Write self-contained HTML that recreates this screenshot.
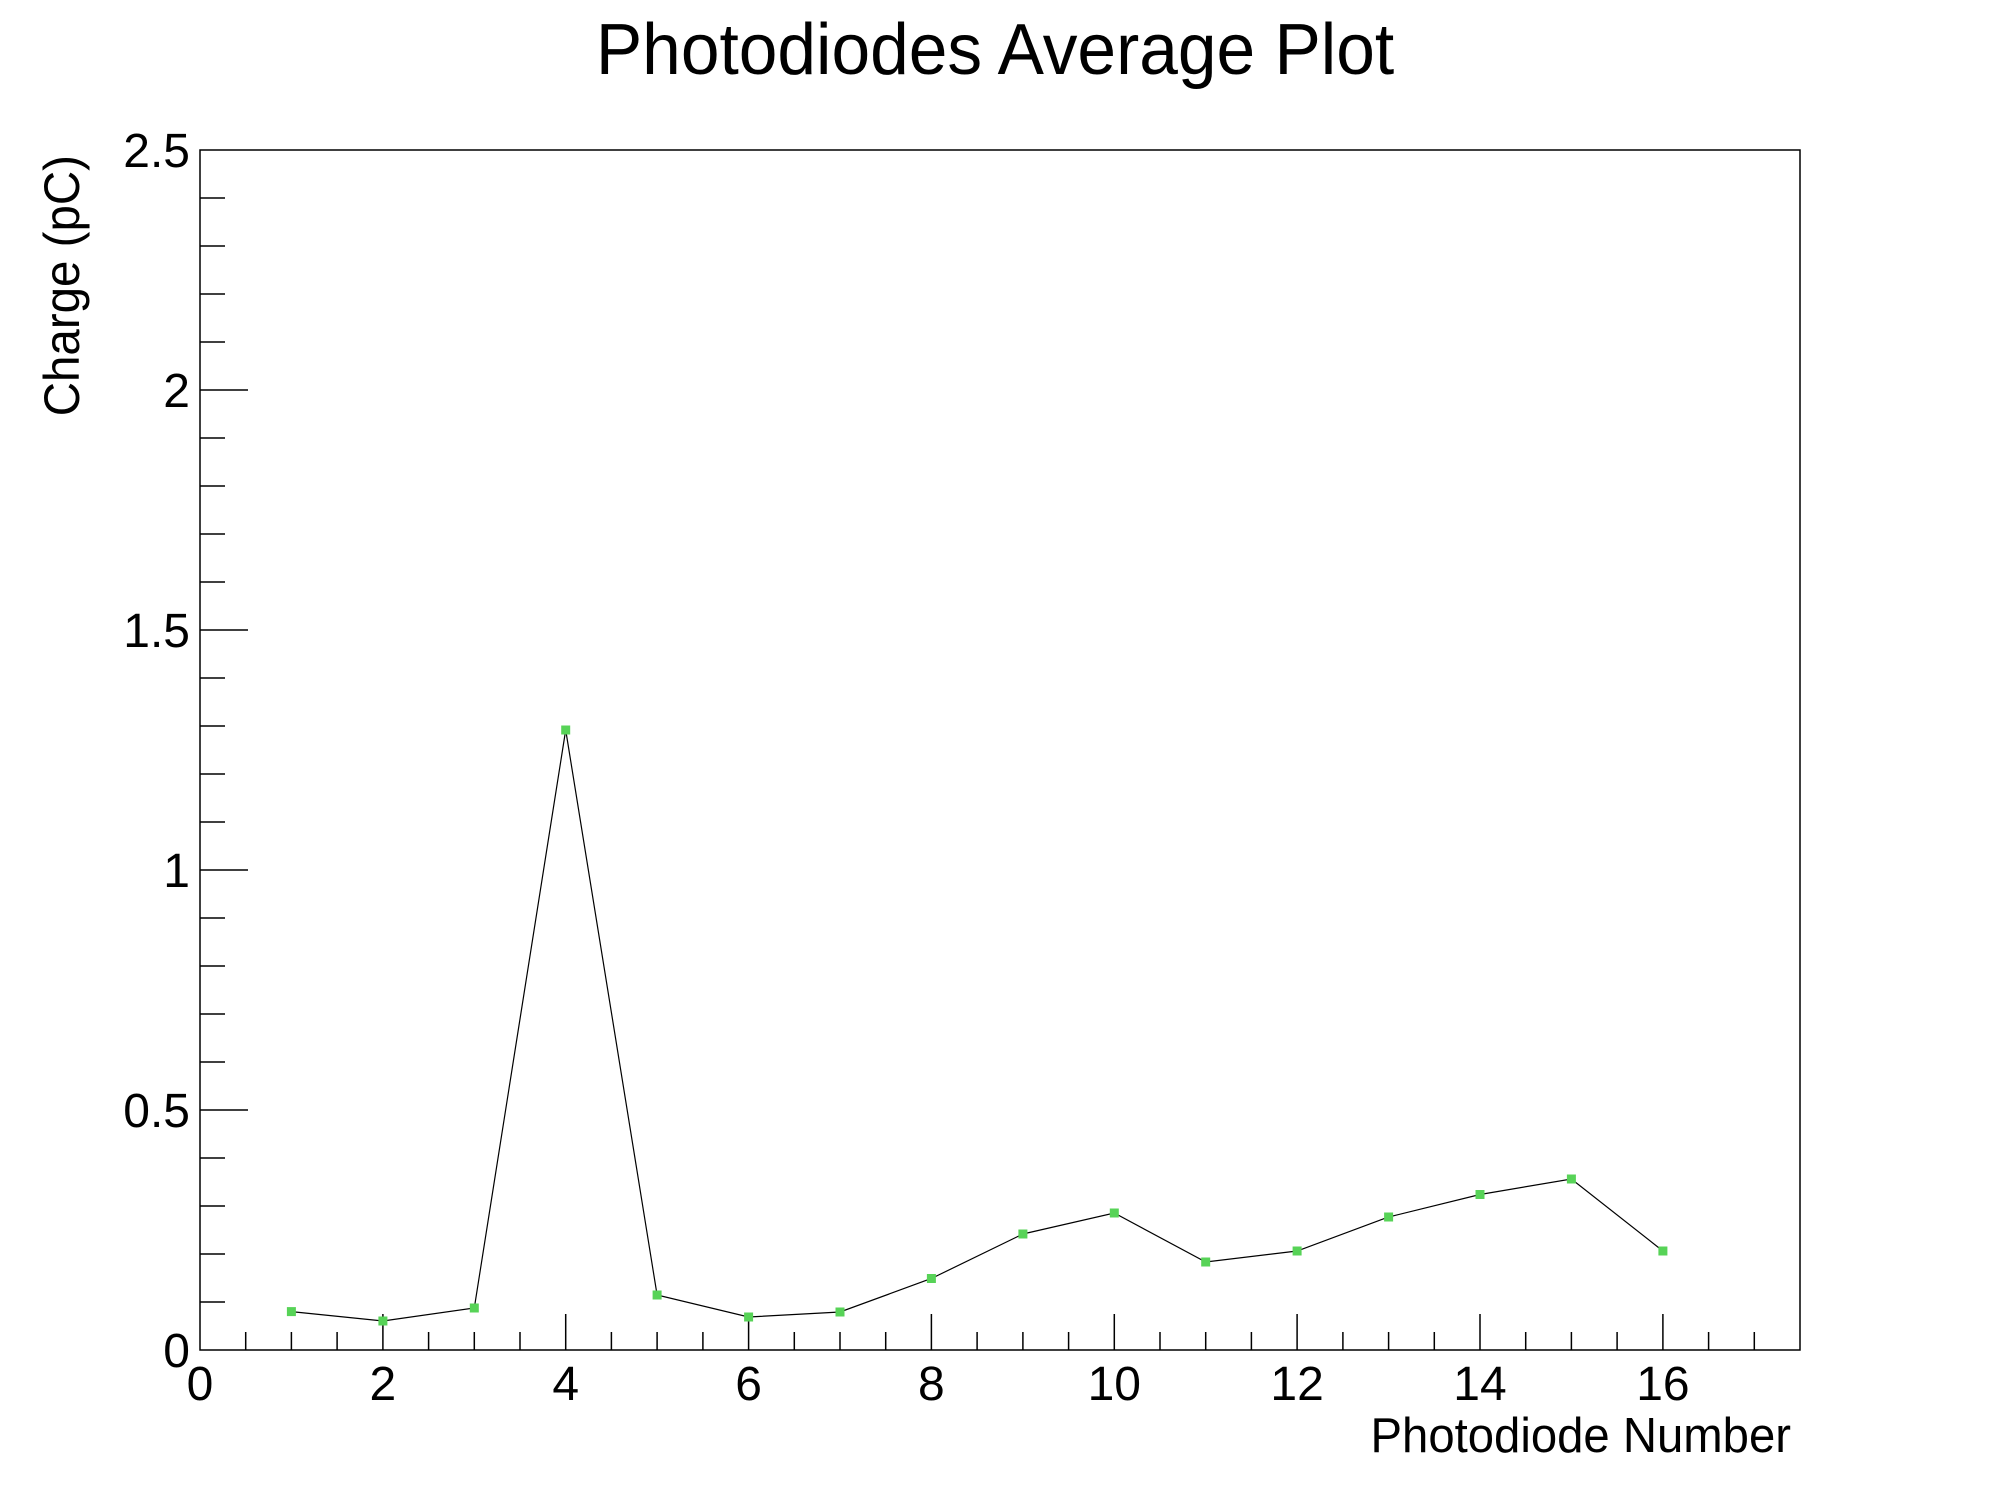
<!DOCTYPE html>
<html><head><meta charset="utf-8"><style>
html,body{margin:0;padding:0;background:#fff;width:2000px;height:1500px;overflow:hidden}
text{font-family:"Liberation Sans",Arial,sans-serif;fill:#000}
</style></head><body>
<svg width="2000" height="1500" viewBox="0 0 2000 1500" xmlns="http://www.w3.org/2000/svg">
<rect width="2000" height="1500" fill="#fff"/>
<text transform="translate(995,74) scale(0.965,1)" font-size="72" text-anchor="middle">Photodiodes Average Plot</text>
<rect x="200" y="150" width="1600" height="1200" fill="none" stroke="#000" stroke-width="1.5"/>
<path stroke="#000" stroke-width="1.5" fill="none" d="
M245.7 1350v-18M291.4 1350v-18M337.1 1350v-18M382.9 1350v-36M428.6 1350v-18M474.3 1350v-18M520 1350v-18M565.7 1350v-36M611.4 1350v-18M657.1 1350v-18M702.9 1350v-18M748.6 1350v-36M794.3 1350v-18M840 1350v-18M885.7 1350v-18M931.4 1350v-36M977.1 1350v-18M1022.9 1350v-18M1068.6 1350v-18M1114.3 1350v-36M1160 1350v-18M1205.7 1350v-18M1251.4 1350v-18M1297.1 1350v-36M1342.9 1350v-18M1388.6 1350v-18M1434.3 1350v-18M1480 1350v-36M1525.7 1350v-18M1571.4 1350v-18M1617.1 1350v-18M1662.9 1350v-36M1708.6 1350v-18M1754.3 1350v-18
M200 1302h25M200 1254h25M200 1206h25M200 1158h25M200 1110h48M200 1062h25M200 1014h25M200 966h25M200 918h25M200 870h48M200 822h25M200 774h25M200 726h25M200 678h25M200 630h48M200 582h25M200 534h25M200 486h25M200 438h25M200 390h48M200 342h25M200 294h25M200 246h25M200 198h25"/>
<g font-size="48" text-anchor="end">
<text x="190" y="1367">0</text>
<text x="190" y="1127">0.5</text>
<text x="190" y="887">1</text>
<text x="190" y="647">1.5</text>
<text x="190" y="407">2</text>
<text x="190" y="167">2.5</text>
</g>
<g font-size="48" text-anchor="middle">
<text x="200" y="1400">0</text>
<text x="382.9" y="1400">2</text>
<text x="565.7" y="1400">4</text>
<text x="748.6" y="1400">6</text>
<text x="931.4" y="1400">8</text>
<text x="1114.3" y="1400">10</text>
<text x="1297.1" y="1400">12</text>
<text x="1480" y="1400">14</text>
<text x="1662.9" y="1400">16</text>
</g>
<text transform="translate(1791,1452) scale(0.965,1)" font-size="49" text-anchor="end">Photodiode Number</text>
<text transform="translate(79,155) rotate(-90) scale(0.95,1)" font-size="50" text-anchor="end">Charge (pC)</text>
<polyline fill="none" stroke="#000" stroke-width="1.2" points="291.4,1311.6 382.9,1321 474.3,1308 565.7,730 657.1,1295 748.6,1317 840,1312 931.4,1278.5 1022.9,1234 1114.3,1213 1205.7,1262 1297.1,1251 1388.6,1217 1480,1194.5 1571.4,1179 1662.9,1251"/>
<g fill="#57d357">
<rect x="286.9" y="1307.1" width="9" height="9"/>
<rect x="378.4" y="1316.5" width="9" height="9"/>
<rect x="469.8" y="1303.5" width="9" height="9"/>
<rect x="561.2" y="725.5" width="9" height="9"/>
<rect x="652.6" y="1290.5" width="9" height="9"/>
<rect x="744.1" y="1312.5" width="9" height="9"/>
<rect x="835.5" y="1307.5" width="9" height="9"/>
<rect x="926.9" y="1274" width="9" height="9"/>
<rect x="1018.4" y="1229.5" width="9" height="9"/>
<rect x="1109.8" y="1208.5" width="9" height="9"/>
<rect x="1201.2" y="1257.5" width="9" height="9"/>
<rect x="1292.6" y="1246.5" width="9" height="9"/>
<rect x="1384.1" y="1212.5" width="9" height="9"/>
<rect x="1475.5" y="1190" width="9" height="9"/>
<rect x="1566.9" y="1174.5" width="9" height="9"/>
<rect x="1658.4" y="1246.5" width="9" height="9"/>
</g>
</svg>
</body></html>
